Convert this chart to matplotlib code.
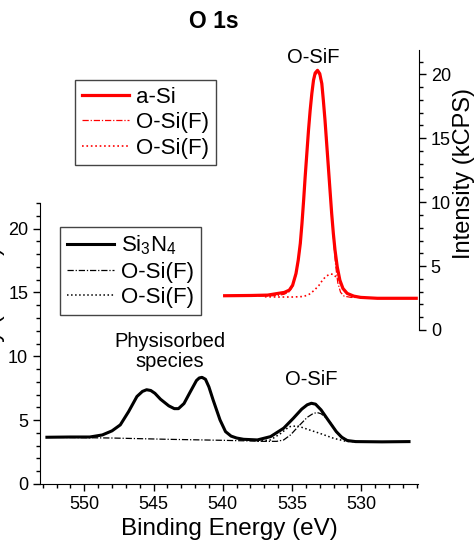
import matplotlib.pyplot as plt
from matplotlib.ticker import MultipleLocator

plt.rcParams['font.family'] = ['Liberation Sans', 'DejaVu Sans']
plt.rcParams['mathtext.fontset'] = 'custom'
plt.rcParams['mathtext.rm'] = 'Liberation Sans'
plt.rcParams['mathtext.it'] = 'Liberation Sans'

# --- Si3N4 (bas, axe noir) ---
sin_be = [552.7, 551.0, 549.6, 548.7, 548.0, 547.4, 546.8, 546.2, 545.8, 545.5,
          545.2, 544.9, 544.5, 543.9, 543.5, 543.2, 542.8, 542.4, 541.9, 541.7,
          541.5, 541.25, 541.0, 540.7, 540.2, 539.8, 539.4, 539.0, 538.5, 537.5,
          536.55, 535.6, 534.9, 534.3, 533.9, 533.6, 533.3, 532.9, 532.4, 531.8,
          531.4, 531.0, 530.4, 528.5, 526.55]
sin_int = [3.66, 3.68, 3.68, 3.84, 4.16, 4.63, 5.67, 6.85, 7.25, 7.38,
           7.32, 7.1, 6.64, 6.12, 5.9, 5.9, 6.3, 7.11, 8.10, 8.3,
           8.35, 8.2, 7.6, 6.59, 5.02, 4.10, 3.75, 3.6, 3.50, 3.45,
           3.71, 4.37, 5.15, 5.86, 6.2, 6.32, 6.25, 5.8, 5.02, 4.10,
           3.65, 3.4, 3.32, 3.30, 3.32]

sin_c1_be = [552.7, 548.0, 544.0, 540.0, 538.0, 537.0, 536.1, 535.6, 535.1, 534.6,
             533.9, 533.5, 533.2, 532.9, 532.5, 532.1, 531.8, 531.1, 530.4, 528.0, 526.6]
sin_c1_int = [3.66, 3.6, 3.5, 3.42, 3.37, 3.34, 3.34, 3.45, 3.85, 4.44,
              5.22, 5.5, 5.6, 5.5, 5.15, 4.65, 4.10, 3.45, 3.32, 3.30, 3.30]

sin_c2_be = [537.5, 536.55, 535.8, 535.2, 534.6, 533.9, 533.0, 532.0, 531.1, 530.0, 527.2]
sin_c2_int = [3.35, 3.45, 3.97, 4.49, 4.55, 4.29, 3.97, 3.58, 3.34, 3.30, 3.30]

# --- a-Si (haut, axe rouge) ---
asi_be = [539.9, 538.0, 536.8, 536.07, 535.6, 535.24, 535.0, 534.76, 534.6, 534.45,
          534.33, 534.21, 534.1, 533.98, 533.86, 533.74, 533.62, 533.5, 533.38, 533.21,
          533.05, 532.9, 532.79, 532.67, 532.55, 532.43, 532.31, 532.19, 532.07, 531.95,
          531.79, 531.6, 531.38, 531.07, 530.6, 530.1, 528.9, 527.5, 526.1]
asi_int = [2.68, 2.7, 2.73, 2.86, 2.94, 3.12, 3.51, 4.42, 5.46, 6.77,
           8.33, 10.15, 11.98, 13.8, 15.62, 17.18, 18.49, 19.53, 20.1, 20.31,
           20.05, 19.27, 17.96, 16.4, 14.58, 12.76, 10.93, 9.11, 7.55, 6.25,
           4.94, 3.9, 3.25, 2.86, 2.65, 2.55, 2.48, 2.48, 2.48]

asi_c1_be = [539.9, 536.8, 536.07, 535.6, 535.24, 535.0, 534.76, 534.6, 534.45, 534.33,
             534.21, 534.1, 533.98, 533.86, 533.74, 533.62, 533.5, 533.38, 533.21, 533.05,
             532.9, 532.75, 532.63, 532.5, 532.38, 532.26, 532.14, 532.02, 531.9, 531.75,
             531.55, 531.3, 530.8, 528.0, 526.1]
asi_c1_int = [2.66, 2.66, 2.7, 2.8, 3.0, 3.4, 4.3, 5.35, 6.65, 8.2,
              10.0, 11.85, 13.65, 15.5, 17.05, 18.35, 19.4, 19.95, 20.15, 19.9,
              19.1, 17.6, 16.0, 14.1, 12.2, 10.3, 8.4, 6.6, 5.0, 3.7,
              2.95, 2.65, 2.55, 2.5, 2.5]

asi_c2_be = [537.0, 536.1, 535.0, 534.2, 533.8, 533.45, 533.1, 532.85, 532.6, 532.3,
             532.05, 531.8, 531.55, 531.2, 530.7, 530.0]
asi_c2_int = [2.6, 2.58, 2.58, 2.62, 2.8, 3.1, 3.5, 3.9, 4.2, 4.38,
              4.35, 4.05, 3.6, 2.95, 2.6, 2.52]

xlim = (553.2, 525.9)

fig = plt.figure(figsize=(4.75, 5.47), dpi=100)

# axe noir (Si3N4)
ax1 = fig.add_axes([40 / 475, 63 / 547, 378 / 475, 281 / 547])
ax1.plot(sin_be, sin_int, color='black', lw=2.2, label='Si$_3$N$_4$')
ax1.plot(sin_c1_be, sin_c1_int, color='black', lw=0.9, dashes=(5, 1.5, 1, 1.5), label='O-Si(F)')
ax1.plot(sin_c2_be, sin_c2_int, color='black', lw=1.1, ls=':', label='O-Si(F)')
ax1.set_xlim(xlim)
ax1.set_ylim(0, 22)
ax1.spines['top'].set_visible(False)
ax1.spines['right'].set_visible(False)
ax1.xaxis.set_major_locator(MultipleLocator(5))
ax1.xaxis.set_minor_locator(MultipleLocator(1))
ax1.yaxis.set_major_locator(MultipleLocator(5))
ax1.yaxis.set_minor_locator(MultipleLocator(1))
ax1.tick_params(which='major', direction='out', length=5, width=1, labelsize=13)
ax1.tick_params(which='minor', direction='out', length=3, width=1)
ax1.set_xlabel('Binding Energy (eV)', fontsize=17.5, labelpad=4)
ax1.set_ylabel('Intensity (kCPS)', fontsize=17)
ax1.yaxis.set_label_coords(-0.092, 0.54)
ax1.text(543.8, 10.35, 'Physisorbed\nspecies', ha='center', va='center', fontsize=14.5, linespacing=1.05)
ax1.text(533.6, 8.15, 'O-SiF', ha='center', va='center', fontsize=14.5)
leg1 = ax1.legend(loc='upper left', bbox_to_anchor=(60 / 475, 1 - 227 / 547),
                  bbox_transform=fig.transFigure, fontsize=16, frameon=True, fancybox=False,
                  edgecolor='#444444', framealpha=1, borderpad=0.3, labelspacing=0.2,
                  handlelength=2.15, handletextpad=0.3, borderaxespad=0)
leg1.get_frame().set_linewidth(1)

# axe rouge (a-Si)
ax2 = fig.add_axes([40 / 475, 217 / 547, 379 / 475, 280 / 547])
ax2.patch.set_visible(False)
ax2.plot(asi_be, asi_int, color='red', lw=2.3, label='a-Si')
ax2.plot(asi_c1_be, asi_c1_int, color='red', lw=0.9, dashes=(5, 1.5, 1, 1.5), label='O-Si(F)')
ax2.plot(asi_c2_be, asi_c2_int, color='red', lw=1.2, ls=':', label='O-Si(F)')
ax2.set_xlim(xlim)
ax2.set_ylim(0, 21.9)
for s in ['top', 'left', 'bottom']:
    ax2.spines[s].set_visible(False)
ax2.set_xticks([])
ax2.yaxis.tick_right()
ax2.yaxis.set_label_position('right')
ax2.yaxis.set_major_locator(MultipleLocator(5))
ax2.yaxis.set_minor_locator(MultipleLocator(1))
ax2.tick_params(which='major', direction='out', length=5, width=1, labelsize=13)
ax2.tick_params(which='minor', direction='out', length=3, width=1)
ax2.set_ylabel('Intensity (kCPS)', fontsize=17)
ax2.yaxis.set_label_coords(1.09, 0.56)
ax2.text(533.5, 21.3, 'O-SiF', ha='center', va='center', fontsize=14.5)
leg2 = ax2.legend(loc='upper left', bbox_to_anchor=(75 / 475, 1 - 80 / 547),
                  bbox_transform=fig.transFigure, fontsize=16, frameon=True, fancybox=False,
                  edgecolor='#444444', framealpha=1, borderpad=0.3, labelspacing=0.2,
                  handlelength=2.15, handletextpad=0.3, borderaxespad=0)
leg2.get_frame().set_linewidth(1)

fig.text(214 / 475, 1 - 22 / 547, 'O 1s', ha='center', va='center', fontsize=16.5, fontweight='bold')

plt.savefig('out.png', dpi=100)
